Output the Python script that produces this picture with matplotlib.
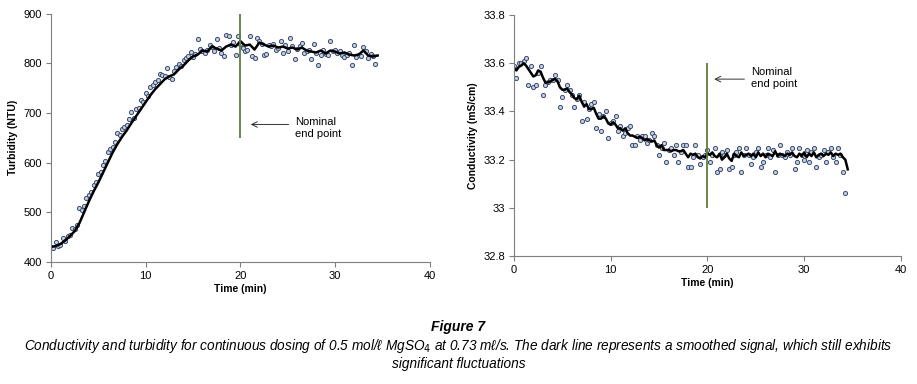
import numpy as np
import matplotlib
matplotlib.use("Agg")
import matplotlib.pyplot as plt

# sampling intervals (min)
DT_SCATTER = 0.25
DT_LINE_TURB = 0.5
DT_LINE_COND = 0.25

# raw turbidity readings (NTU)
turb_raw = [430, 428, 440, 432, 434, 448, 442, 452, 455, 468, 466, 475, 508, 505, 512, 528,
            535, 540, 555, 562, 578, 582, 596, 604, 622, 628, 632, 642, 660, 655, 668, 672,
            676, 688, 702, 690, 708, 710, 726, 722, 740, 735, 752, 756, 762, 766, 778, 776,
            774, 790, 772, 768, 784, 792, 798, 795, 806, 810, 815, 824, 812, 820, 849, 830,
            826, 822, 828, 838, 834, 826, 850, 832, 822, 815, 858, 855, 838, 844, 818, 855,
            840, 832, 825, 828, 855, 815, 810, 852, 846, 840, 816, 820, 838, 835, 840, 828,
            832, 845, 822, 838, 825, 852, 836, 808, 830, 836, 842, 822, 826, 828, 808, 840,
            822, 796, 816, 828, 820, 816, 846, 826, 828, 822, 825, 818, 812, 818, 822, 796,
            838, 812, 818, 814, 834, 826, 810, 820, 814, 798]

# smoothed turbidity (NTU)
turb_smooth = [430, 432, 436, 443, 452, 462, 478, 500, 522, 542, 560, 580, 600, 620, 637, 652,
               665, 680, 694, 708, 722, 736, 748, 758, 768, 774, 778, 788, 796, 806, 814, 818,
               826, 824, 834, 830, 826, 834, 838, 834, 845, 836, 838, 828, 842, 838, 834, 836,
               832, 834, 830, 832, 828, 832, 826, 824, 822, 826, 820, 826, 824, 820, 822, 818,
               816, 818, 826, 816, 814, 816]

# raw conductivity readings (mS/cm)
cond_raw = [33.59, 33.54, 33.60, 33.60, 33.61, 33.62, 33.51, 33.59, 33.50, 33.51, 33.56, 33.59,
            33.47, 33.51, 33.52, 33.53, 33.53, 33.55, 33.53, 33.42, 33.46, 33.49, 33.51, 33.49,
            33.47, 33.42, 33.45, 33.47, 33.36, 33.44, 33.37, 33.41, 33.43, 33.44, 33.33, 33.39,
            33.32, 33.38, 33.40, 33.29, 33.35, 33.36, 33.38, 33.32, 33.34, 33.30, 33.31, 33.33,
            33.34, 33.26, 33.26, 33.30, 33.28, 33.30, 33.30, 33.27, 33.28, 33.31, 33.30, 33.26,
            33.22, 33.25, 33.27, 33.19, 33.24, 33.25, 33.22, 33.26, 33.19, 33.23, 33.26, 33.26,
            33.17, 33.17, 33.21, 33.26, 33.22, 33.18, 33.21, 33.22, 33.24, 33.19, 33.22, 33.25,
            33.15, 33.16, 33.23, 33.22, 33.24, 33.16, 33.17, 33.22, 33.23, 33.25, 33.15, 33.22,
            33.25, 33.22, 33.18, 33.21, 33.23, 33.25, 33.17, 33.19, 33.22, 33.25, 33.21, 33.24,
            33.15, 33.22, 33.26, 33.22, 33.21, 33.23, 33.22, 33.25, 33.16, 33.19, 33.25, 33.22,
            33.20, 33.24, 33.19, 33.23, 33.25, 33.17, 33.21, 33.22, 33.24, 33.19, 33.23, 33.25,
            33.21, 33.19, 33.25, 33.22, 33.15, 33.06]

# smoothed conductivity (mS/cm)
cond_smooth = [33.58, 33.57, 33.585, 33.59, 33.60, 33.59, 33.575, 33.56, 33.545, 33.55, 33.57,
               33.565, 33.54, 33.52, 33.52, 33.525, 33.53, 33.535, 33.525, 33.50, 33.49, 33.49,
               33.495, 33.48, 33.47, 33.455, 33.45, 33.465, 33.44, 33.42, 33.43, 33.41, 33.41,
               33.415, 33.39, 33.37, 33.37, 33.38, 33.37, 33.35, 33.345, 33.355, 33.345, 33.33,
               33.33, 33.32, 33.33, 33.31, 33.30, 33.30, 33.295, 33.29, 33.295, 33.29, 33.28,
               33.285, 33.28, 33.275, 33.28, 33.26, 33.25, 33.26, 33.24, 33.24, 33.24, 33.235,
               33.24, 33.24, 33.235, 33.235, 33.24, 33.225, 33.21, 33.225, 33.22, 33.225, 33.21,
               33.205, 33.215, 33.21, 33.225, 33.22, 33.23, 33.215, 33.21, 33.225, 33.20, 33.21,
               33.225, 33.205, 33.195, 33.225, 33.215, 33.21, 33.23, 33.215, 33.22, 33.225,
               33.215, 33.225, 33.21, 33.23, 33.215, 33.225, 33.21, 33.225, 33.22, 33.215,
               33.235, 33.215, 33.225, 33.22, 33.215, 33.225, 33.22, 33.23, 33.215, 33.21,
               33.225, 33.215, 33.23, 33.21, 33.225, 33.215, 33.23, 33.21, 33.22, 33.225,
               33.215, 33.225, 33.22, 33.23, 33.215, 33.225, 33.22, 33.225, 33.21, 33.20, 33.16]

end_point = 20
t_turb_raw = np.arange(len(turb_raw)) * DT_SCATTER
t_turb_smooth = np.arange(len(turb_smooth)) * DT_LINE_TURB
t_cond_raw = np.arange(len(cond_raw)) * DT_SCATTER
t_cond_smooth = np.arange(len(cond_smooth)) * DT_LINE_COND

plt.rcParams['font.family'] = ['Liberation Sans', 'DejaVu Sans']

fig = plt.figure(figsize=(9.17, 3.84), dpi=100)
ax1 = fig.add_axes([0.0556, 0.318, 0.413, 0.646])
ax2 = fig.add_axes([0.5605, 0.333, 0.422, 0.628])

mk = dict(ls='none', marker='o', ms=3.0, mfc='#c3cfe0', mec='#3d4d70', mew=0.7)
green = '#5f7f3c'

# turbidity
ax1.plot(t_turb_raw, turb_raw, **mk)
ax1.plot(t_turb_smooth, turb_smooth, color='black', lw=1.8)
ax1.vlines(end_point, 650, 900, color=green, lw=1.3)
ax1.annotate('', xy=(20.8, 677), xytext=(25.4, 677),
             arrowprops=dict(arrowstyle='->', color='#333333', lw=0.7))
ax1.text(25.8, 669, 'Nominal\nend point', fontsize=8, va='center', ha='left', linespacing=1.25)
ax1.set_xlim(0, 40)
ax1.set_ylim(400, 900)
ax1.set_xticks([0, 10, 20, 30, 40])
ax1.set_yticks([400, 500, 600, 700, 800, 900])
ax1.set_xlabel('Time (min)', fontsize=7.5, fontweight='bold', labelpad=2)
ax1.set_ylabel('Turbidity (NTU)', fontsize=7.5, fontweight='bold', labelpad=4)

# conductivity
ax2.plot(t_cond_raw, cond_raw, **mk)
ax2.plot(t_cond_smooth, cond_smooth, color='black', lw=1.8)
ax2.vlines(end_point, 33.0, 33.6, color=green, lw=1.3)
ax2.annotate('', xy=(20.4, 33.534), xytext=(24.1, 33.534),
             arrowprops=dict(arrowstyle='->', color='#333333', lw=0.7))
ax2.text(24.5, 33.537, 'Nominal\nend point', fontsize=8, va='center', ha='left', linespacing=1.25)
ax2.set_xlim(0, 40)
ax2.set_ylim(32.8, 33.8)
ax2.set_xticks([0, 10, 20, 30, 40])
ax2.set_yticks([32.8, 33.0, 33.2, 33.4, 33.6, 33.8])
ax2.set_yticklabels(['32.8', '33', '33.2', '33.4', '33.6', '33.8'])
ax2.set_xlabel('Time (min)', fontsize=7.5, fontweight='bold', labelpad=2)
ax2.set_ylabel('Conductivity (mS/cm)', fontsize=7.5, fontweight='bold', labelpad=4)

for ax in (ax1, ax2):
    for s in ('top', 'right'):
        ax.spines[s].set_visible(False)
    for s in ('left', 'bottom'):
        ax.spines[s].set_color('#7f7f7f')
        ax.spines[s].set_linewidth(0.8)
    ax.tick_params(direction='out', length=3.5, width=0.8, color='#7f7f7f',
                   labelsize=8, pad=3)

cap = ['Liberation Sans', 'DejaVu Sans']
fig.text(0.5, 0.148, 'Figure 7', ha='center', va='center', fontsize=10,
         fontweight='bold', style='italic', family=cap)
fig.text(0.5, 0.099, 'Conductivity and turbidity for continuous dosing of 0.5 mol/ℓ MgSO$_4$ at 0.73 mℓ/s. '
         'The dark line represents a smoothed signal, which still exhibits',
         ha='center', va='center', fontsize=9.8, style='italic', family=cap)
fig.text(0.5, 0.052, 'significant fluctuations', ha='center', va='center', fontsize=9.8,
         style='italic', family=cap)

fig.savefig('out.png', dpi=100)
